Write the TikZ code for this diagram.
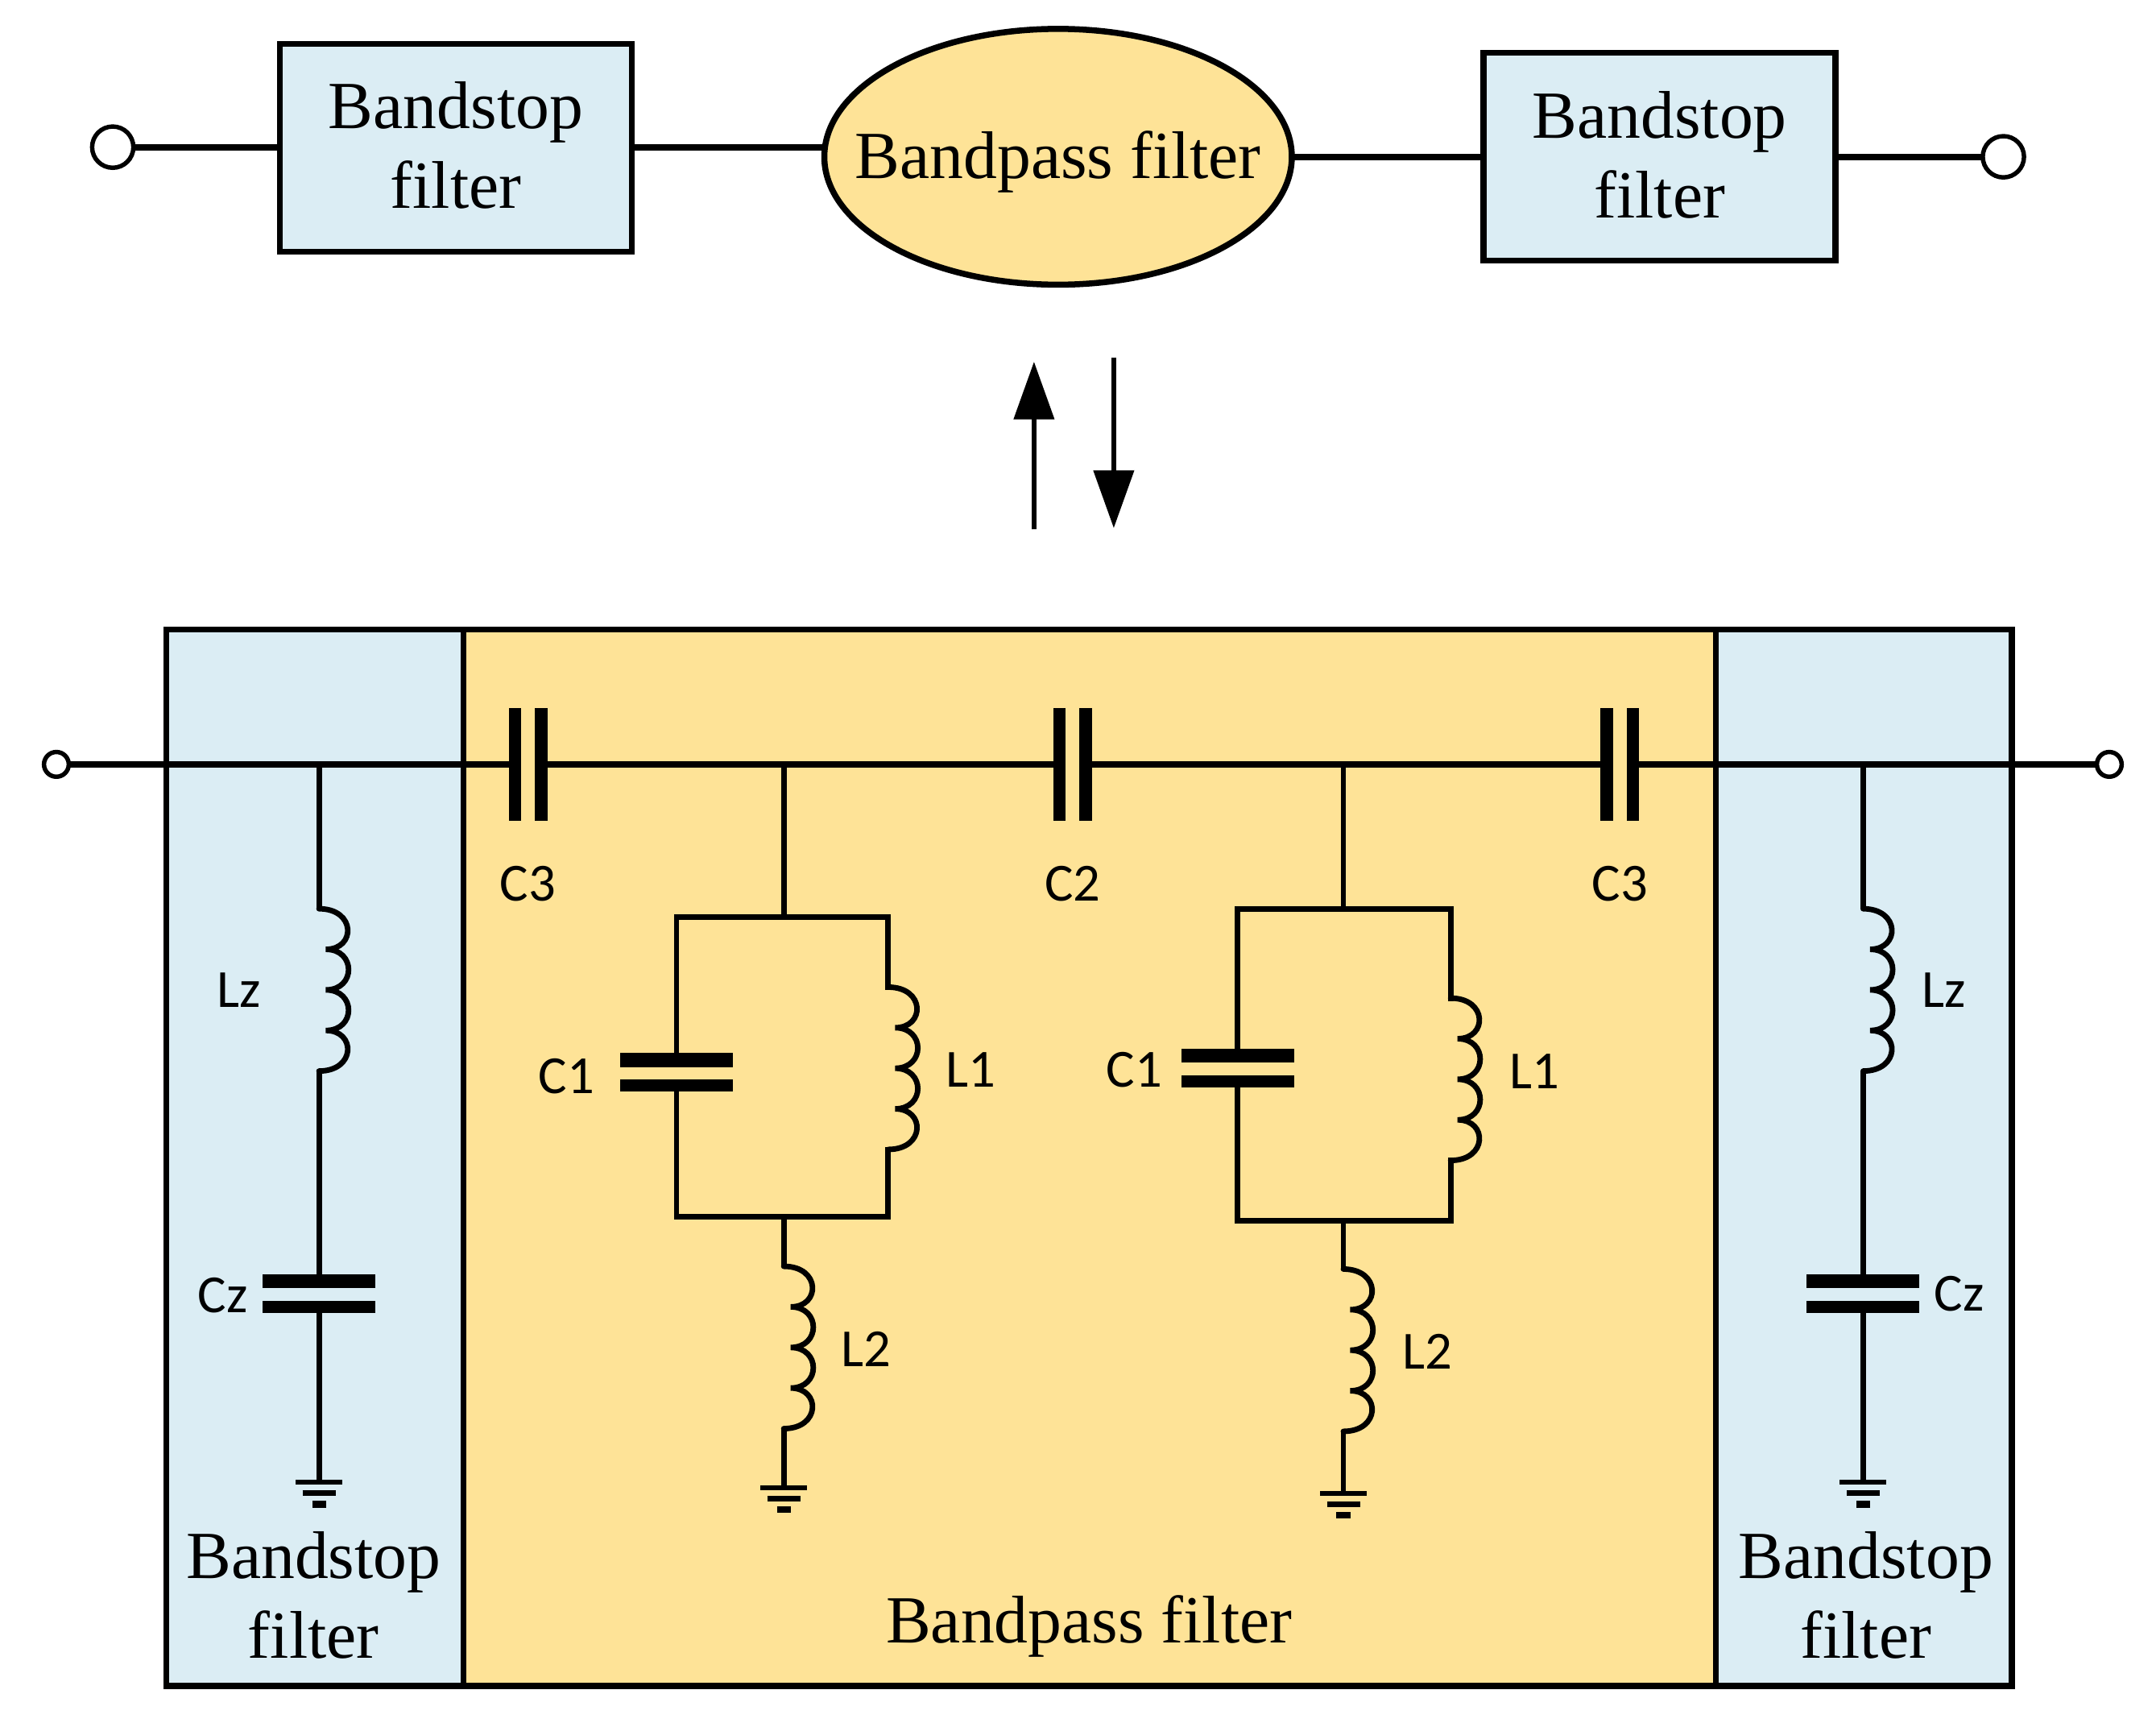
\documentclass[tikz,border=0pt]{standalone}
\usepackage{fontspec}
\setmainfont{Liberation Serif}
\newfontfamily\lblfont{Carlito}
\usetikzlibrary{arrows.meta,shapes.geometric}
\definecolor{bsblue}{HTML}{DBEDF4}
\definecolor{bpyellow}{HTML}{FEE397}
\tikzset{
  x=0.5pt,y=-0.5pt,
  wire/.style={line width=2.3pt,black},
  thinwire/.style={line width=2pt,black},
  blockbox/.style={draw=black,line width=2.2pt,fill=bsblue,inner sep=0pt,outer sep=0pt,align=center,font=\fontsize{24.5}{29}\selectfont},
  bpblock/.style={draw=black,line width=2.2pt,fill=bpyellow,inner sep=0pt,outer sep=0pt},
  term/.style={circle,draw=black,line width=1.6pt,fill=white,inner sep=0pt,outer sep=0pt},
  bigtext/.style={align=center,inner sep=0pt,font=\fontsize{24.5}{29}\selectfont},
  lbl/.style={inner sep=0pt,font=\lblfont\fontsize{19.5}{22}\selectfont},
  flow/.style={line width=1.8pt,-{Triangle[length=21pt,width=14.5pt]}},
  coil/.pic={
    \draw[thinwire,line cap=round] (0,0) .. controls (27,0) and (27,29.5) .. (5,29.5)
      .. controls (27,29.5) and (27,59) .. (5,59)
      .. controls (27,59) and (27,88.5) .. (5,88.5)
      .. controls (27,88.5) and (27,118) .. (0,118);
  },
  capser/.pic={
    \fill (-14,-41) rectangle (-5,41);
    \fill (5,-41) rectangle (14,41);
  },
  capshunt/.pic={
    \fill (-41,-14) rectangle (41,-4);
    \fill (-41,5) rectangle (41,14);
  },
  gnd/.pic={
    \draw[line width=1.8pt] (-17,0) -- (17,0);
    \draw[line width=2pt] (-12,8) -- (12,8);
    \draw[line width=2.4pt] (-5,16) -- (5,16);
  }
}
\begin{document}
\begin{tikzpicture}
\useasboundingbox (0,0) rectangle (1568,1252.3);
% top row
\node[blockbox,minimum width=128pt,minimum height=75.5pt] (box1) at (331.5,107.5) {Bandstop\\filter\\[-27pt]\mbox{}};
\node[blockbox,minimum width=128pt,minimum height=75.5pt] (box2) at (1207,114) {Bandstop\\filter\\[-27.5pt]\mbox{}};
\node[ellipse,draw=black,line width=2.2pt,fill=bpyellow,inner sep=0pt,outer sep=0pt,minimum width=170pt,minimum height=93pt,font=\fontsize{24.5}{29}\selectfont] (ell) at (769.5,114) {\makebox[0pt][c]{\raisebox{-8pt}[0pt][0pt]{Bandpass filter}}};
\node[term,minimum size=15pt] (tl) at (82,107) {};
\node[term,minimum size=15pt] (tr) at (1457,114) {};
\draw[wire] (tl) -- (box1.west |- tl);
\draw[wire] (box1.east |- tl) -- (ell.west |- tl);
\draw[wire] (ell.east) -- (box2.west);
\draw[wire] (box2.east) -- (tr);
% arrows
\coordinate (upa) at (752,385);
\coordinate (upb) at (752,263);
\coordinate (dna) at (810,260);
\coordinate (dnb) at (810,384);
\draw[flow] (upa) -- (upb);
\draw[flow] (dna) -- (dnb);
\begin{scope}[yshift=-0.4pt]
% big panels
\node[blockbox,minimum width=108pt,minimum height=384pt] (pl) at (229,841) {};
\node[blockbox,minimum width=107.5pt,minimum height=384pt] (pr) at (1355.5,841) {};
\node[bpblock,minimum width=455.5pt,minimum height=384pt] (pm) at (792.5,841) {};
% terminals
\node[term,minimum size=9pt] (in) at (41,555) {};
\node[term,minimum size=9pt] (out) at (1534,555) {};
% series capacitors
\coordinate (c3a) at (384,555);
\coordinate (c2) at (780,555);
\coordinate (c3b) at (1178,555);
\pic at (c3a) {capser};
\pic at (c2) {capser};
\pic at (c3b) {capser};
\draw[wire] (in) -- ([xshift=-7pt]c3a);
\draw[wire] ([xshift=7pt]c3a) -- ([xshift=-7pt]c2);
\draw[wire] ([xshift=7pt]c2) -- ([xshift=-7pt]c3b);
\draw[wire] ([xshift=7pt]c3b) -- (out);
\node[lbl] (lc3a) at (384,642) {C3};
\node[lbl] (lc2) at (780,642) {C2};
\node[lbl] (lc3b) at (1178,642) {C3};
% left bandstop branch
\coordinate (lj) at (232,555);
\coordinate (lzt) at (232,660);
\coordinate (lzb) at (232,778);
\coordinate (lcz) at (232,940);
\coordinate (lg) at (232,1077);
\draw[thinwire] (lj) -- (lzt);
\pic at (lzt) {coil};
\pic at (lcz) {capshunt};
\draw[thinwire] (lzb) -- ([yshift=5pt]lcz);
\draw[thinwire] ([yshift=-5pt]lcz) -- (lg);
\pic at (lg) {gnd};
\node[lbl] (llz) at (174,719) {Lz};
\node[lbl] (lczt) at (162,941) {Cz};
% right bandstop branch
\coordinate (rj) at (1355,555);
\coordinate (rzt) at (1355,660);
\coordinate (rzb) at (1355,778);
\coordinate (rcz) at (1355,940);
\coordinate (rg) at (1355,1077);
\draw[thinwire] (rj) -- (rzt);
\pic at (rzt) {coil};
\pic at (rcz) {capshunt};
\draw[thinwire] (rzb) -- ([yshift=5pt]rcz);
\draw[thinwire] ([yshift=-5pt]rcz) -- (rg);
\pic at (rg) {gnd};
\node[lbl] (rlz) at (1414,719) {Lz};
\node[lbl] (rczt) at (1425,940) {Cz};
% resonator 1
\coordinate (aj) at (570,555);
\coordinate (at) at (570,666);
\coordinate (atl) at (492,666);
\coordinate (atr) at (646,666);
\coordinate (abl) at (492,884);
\coordinate (abr) at (646,884);
\coordinate (ab) at (570,884);
\coordinate (ac) at (492,779);
\coordinate (alt) at (646,717);
\coordinate (alb) at (646,835);
\coordinate (a2t) at (570,920);
\coordinate (a2b) at (570,1038);
\coordinate (ag) at (570,1081);
\draw[thinwire] (aj) -- (at);
\draw[thinwire,line cap=rect] ([yshift=5pt]ac) -- (atl) -- (atr) -- (alt);
\draw[thinwire,line cap=rect] ([yshift=-5pt]ac) -- (abl) -- (abr) -- (alb);
\pic at (ac) {capshunt};
\pic at (alt) {coil};
\draw[thinwire] (ab) -- (a2t);
\pic at (a2t) {coil};
\draw[thinwire] (a2b) -- (ag);
\pic at (ag) {gnd};
\node[lbl] (lac) at (412,782) {C1};
\node[lbl] (lal) at (706,777) {L1};
\node[lbl] (la2) at (630,980) {L2};
% resonator 2
\coordinate (bj) at (977,555);
\coordinate (bt) at (977,660);
\coordinate (btl) at (900,660);
\coordinate (btr) at (1055,660);
\coordinate (bbl) at (900,887);
\coordinate (bbr) at (1055,887);
\coordinate (bb) at (977,887);
\coordinate (bc) at (900,776);
\coordinate (blt) at (1055,725);
\coordinate (blb) at (1055,843);
\coordinate (b2t) at (977,922);
\coordinate (b2b) at (977,1040);
\coordinate (bg) at (977,1085);
\draw[thinwire] (bj) -- (bt);
\draw[thinwire,line cap=rect] ([yshift=5pt]bc) -- (btl) -- (btr) -- (blt);
\draw[thinwire,line cap=rect] ([yshift=-5pt]bc) -- (bbl) -- (bbr) -- (blb);
\pic at (bc) {capshunt};
\pic at (blt) {coil};
\draw[thinwire] (bb) -- (b2t);
\pic at (b2t) {coil};
\draw[thinwire] (b2b) -- (bg);
\pic at (bg) {gnd};
\node[lbl] (lbc) at (825,777) {C1};
\node[lbl] (lbl1) at (1116,778) {L1};
\node[lbl] (lb2) at (1038,982) {L2};
% panel captions
\node[bigtext] (cl) at (228,1159) {Bandstop\\filter};
\node[bigtext] (cr) at (1357,1159) {Bandstop\\filter};
\node[bigtext] (cm) at (792,1182) {Bandpass filter};
\end{scope}
\end{tikzpicture}
\end{document}
